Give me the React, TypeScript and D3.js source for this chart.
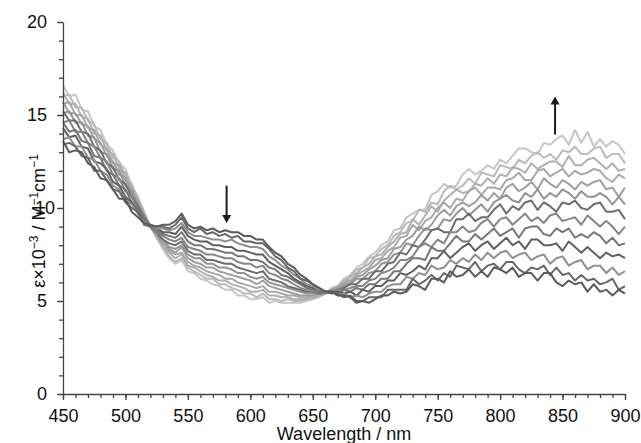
import React, { useEffect, useRef } from 'react';
import * as d3 from 'd3';

// wavelength grid of the spectra, nm
const wavelengths = d3.range(450, 901, 5);

// absorption spectra, ε×10^-3, first (dark) to last (light)
const s0 = [13.6, 13.0, 13.1, 13.0, 12.4, 12.2, 11.6, 11.5, 11.0, 10.5, 10.5, 9.8, 9.5,
  9.2, 9.1, 9.0, 9.1, 9.1, 9.3, 9.7, 9.1, 8.9, 9.0, 8.8, 8.9, 8.7, 8.8, 8.7, 8.7, 8.5, 8.5, 8.3, 8.3, 7.9, 7.6, 7.4, 7.0, 6.8, 6.4, 6.2, 5.9, 5.7, 5.5,
  5.5, 5.3, 5.3, 5.2, 4.9, 5.0, 4.9, 5.1, 5.3, 5.3, 5.5, 5.4, 5.5, 5.9, 5.8, 5.6, 6.2, 6.2, 6.0, 6.6, 6.3, 6.4, 6.7, 6.3, 6.6, 6.3, 6.8, 6.7, 6.5, 6.8, 6.3, 6.5, 6.5, 6.1, 6.5, 6.5, 6.0, 5.8, 6.1, 5.9, 6.0, 5.5, 5.9, 5.5, 5.6, 5.3, 5.6, 5.4];
const s1 = [13.4, 13.5, 13.3, 12.8, 12.7, 12.0, 12.0, 11.5, 11.0, 10.9, 10.3, 10.0, 9.8,
  9.1, 9.0, 9.0, 9.0, 8.9, 9.1, 9.5, 8.9, 8.7, 8.9, 8.6, 8.7, 8.5, 8.6, 8.4, 8.5, 8.2, 8.2, 8.1, 8.1, 7.8, 7.4, 7.2, 6.8, 6.6, 6.2, 6.1, 5.9, 5.7, 5.5,
  5.5, 5.4, 5.2, 5.3, 5.0, 5.0, 5.2, 5.2, 5.2, 5.6, 5.6, 5.6, 5.6, 6.2, 5.9, 6.1, 6.4, 6.1, 6.5, 6.3, 6.9, 6.8, 6.7, 7.1, 6.6, 6.9, 7.0, 6.7, 7.1, 7.1, 6.7, 6.5, 6.8, 6.7, 6.9, 6.4, 6.8, 6.4, 6.5, 6.1, 6.4, 6.1, 6.2, 5.9, 6.0, 6.2, 5.6, 5.8];
const s2 = [13.7, 13.8, 13.3, 13.3, 12.7, 12.6, 12.0, 11.8, 11.2, 11.0, 10.4, 10.2, 9.7,
  9.3, 9.0, 8.9, 8.9, 8.8, 8.9, 9.2, 8.7, 8.5, 8.5, 8.4, 8.3, 8.3, 8.2, 8.3, 8.1, 8.0, 7.9, 7.9, 7.8, 7.4, 7.2, 6.9, 6.7, 6.4, 6.2, 5.9, 5.8, 5.6, 5.5,
  5.5, 5.3, 5.4, 5.2, 5.3, 5.2, 5.4, 5.5, 5.5, 5.8, 5.9, 5.9, 6.3, 6.2, 6.5, 6.4, 6.9, 6.7, 6.8, 7.2, 7.0, 7.3, 7.1, 7.5, 7.2, 7.6, 7.3,
  7.6, 7.7, 7.3, 7.5, 7.6, 7.2, 7.4, 7.5, 7.0, 7.3, 7.4, 6.9, 7.1, 7.2, 6.7, 6.9, 6.9, 6.5, 6.8, 6.4, 6.6];
const s3 = [14.3, 13.8, 13.9, 13.3, 13.2, 12.5, 12.4, 12.1, 11.4, 11.2, 10.6, 10.3, 9.7,
  9.4, 9.0, 8.9, 8.7, 8.7, 8.6, 9.0, 8.5, 8.3, 8.2, 8.2, 8.0, 8.0, 7.9, 7.9, 7.7, 7.7, 7.6, 7.5, 7.5, 7.1, 6.9, 6.7, 6.5, 6.2, 6.0, 5.8, 5.7, 5.6, 5.5,
  5.4, 5.5, 5.4, 5.5, 5.3, 5.6, 5.5, 5.8, 5.8, 6.1, 6.1, 6.5, 6.4,
  6.6, 6.9, 6.7, 7.3, 7.3, 7.7, 7.3, 7.6, 7.9, 8.1, 7.7, 8.0, 8.2, 7.8, 8.1, 8.4, 8.0, 8.2, 7.8, 8.3, 8.3, 8.0, 8.0, 8.1, 7.7, 8.2, 7.9, 7.6, 7.9, 7.6, 7.3, 7.6, 7.4, 7.5, 7.3];
const s4 = [14.6, 14.1, 14.2, 13.6, 13.5, 12.8, 12.7, 12.0, 11.8, 11.2, 11.0, 10.3, 9.9,
  9.4, 9.0, 8.8, 8.6, 8.5, 8.4, 8.7, 8.2, 8.0, 8.0, 7.8, 7.8, 7.7, 7.6, 7.6, 7.4, 7.4, 7.2, 7.2, 7.1, 6.8, 6.7, 6.4, 6.3, 6.1, 5.9, 5.7, 5.6, 5.5, 5.5,
  5.5, 5.4, 5.6, 5.5, 5.7, 5.6, 5.9, 5.9, 6.2, 6.2, 6.6, 6.6, 7.0,
  7.3, 7.3, 7.2, 7.9, 7.7, 7.7, 8.1, 8.5, 8.2, 8.2, 8.6, 8.3, 8.6, 8.9, 8.5, 8.7, 8.9, 8.4, 8.9, 9.0, 9.0, 8.6, 8.5, 8.9, 8.7, 8.9, 8.4, 8.6, 8.4, 8.7, 8.5, 8.1, 8.4, 8.0, 8.1];
const s5 = [14.6, 14.7, 14.1, 14.1, 13.5, 13.3, 12.7, 12.5, 11.8, 11.6, 10.9, 10.6, 9.9,
  9.5, 9.0, 8.7, 8.5, 8.3, 8.2, 8.4, 7.9, 7.8, 7.7, 7.5, 7.5, 7.4, 7.3, 7.3, 7.1, 7.0, 7.0, 6.8, 6.9, 6.5, 6.4, 6.2, 6.1, 5.9, 5.7, 5.6, 5.5, 5.5, 5.5,
  5.5, 5.6, 5.6, 5.7, 5.8, 5.8, 6.1, 6.2, 6.5, 6.6, 6.8, 7.2, 7.2,
  7.4, 7.9, 8.1, 7.9, 8.3, 8.1, 8.7, 8.7, 9.0, 8.7, 8.8, 9.2, 9.4, 9.0, 9.4, 9.5, 9.1, 9.4, 9.7, 9.3, 9.5, 9.2, 9.6, 9.7, 9.3, 9.4, 9.5, 9.1, 9.6, 9.3, 9.0, 9.3, 9.0, 8.6, 9.0];
const s6 = [15.2, 14.7, 14.7, 14.1, 14.0, 13.3, 13.1, 12.4, 12.2, 11.5, 11.3, 10.6, 10.1,
  9.5, 9.0, 8.7, 8.3, 8.1, 8.0, 8.2, 7.7, 7.5, 7.5, 7.2, 7.2, 7.1, 7.0, 7.0, 6.8, 6.7, 6.6, 6.5, 6.6, 6.2, 6.1, 6.0, 5.8, 5.7, 5.6, 5.5, 5.5, 5.4, 5.5,
  5.5, 5.6, 5.7, 5.9, 5.9, 6.2, 6.2, 6.6, 6.6, 7.0, 7.1, 7.6, 7.5,
  8.0, 7.9, 8.3, 8.8, 8.9, 8.7, 8.7, 9.4, 9.4, 9.7, 9.3, 9.5, 9.5, 9.9, 10.2, 9.7, 10.1, 9.9, 10.3, 10.4, 9.9, 10.3, 10.1, 9.8, 10.3, 10.2, 10.4, 10.0, 9.9, 10.2, 10.3, 9.8, 9.8, 9.9, 9.4];
const s7 = [15.1, 15.2, 14.6, 14.6, 13.9, 13.8, 13.0, 12.9, 12.1, 12.0, 11.2, 10.9, 10.1,
  9.6, 9.0, 8.6, 8.3, 7.9, 7.8, 8.0, 7.5, 7.3, 7.3, 7.0, 7.0, 6.8, 6.8, 6.7, 6.5, 6.5, 6.3, 6.2, 6.3, 6.0, 5.9, 5.8, 5.7, 5.6, 5.5, 5.4, 5.4, 5.4, 5.4,
  5.6, 5.6, 5.8, 5.9, 6.2, 6.2, 6.5, 6.6, 7.0, 7.1, 7.5, 7.6, 8.1,
  8.0, 8.5, 8.9, 8.8, 8.9, 9.4, 9.3, 9.7, 10.0, 9.6, 9.9, 10.2, 9.8, 10.3, 10.5, 10.7, 10.4, 10.3, 10.8, 10.6, 11.0, 10.5, 10.8, 10.6, 11.0, 10.8, 10.5, 10.9, 10.6, 10.6, 10.8, 10.6, 10.2, 10.6, 10.2];
const s8 = [15.7, 15.1, 15.1, 14.5, 14.4, 13.7, 13.5, 12.8, 12.5, 11.8, 11.6, 10.8, 10.3,
  9.6, 9.0, 8.6, 8.1, 7.8, 7.6, 7.9, 7.3, 7.1, 7.0, 6.8, 6.8, 6.6, 6.5, 6.4, 6.3, 6.2, 6.1, 5.9, 6.1, 5.8, 5.7, 5.6, 5.5, 5.4, 5.3, 5.3, 5.3, 5.4, 5.4,
  5.5, 5.7, 5.9, 6.0, 6.3, 6.4, 6.7, 6.9, 7.2, 7.3, 7.8, 7.9, 8.3,
  8.5, 9.0, 8.8, 9.1, 9.6, 9.9, 9.6, 10.1, 10.3, 10.1, 10.3, 10.7, 10.4, 10.8, 10.5, 11.1, 11.3, 10.9, 11.1, 11.4, 11.0, 11.6, 11.3, 11.1, 11.5, 11.3, 11.0, 11.4, 11.2, 11.4, 11.5, 11.0, 11.1, 10.6, 11.1];
const s9 = [15.6, 15.7, 15.0, 15.0, 14.3, 14.2, 13.4, 13.2, 12.4, 12.3, 11.5, 11.1, 10.3,
  9.6, 9.0, 8.5, 8.1, 7.7, 7.5, 7.6, 7.1, 6.9, 6.8, 6.6, 6.5, 6.4, 6.2, 6.2, 6.0, 5.9, 5.8, 5.7, 5.8, 5.5, 5.5, 5.4, 5.3, 5.3, 5.2, 5.2, 5.3, 5.3, 5.4,
  5.6, 5.7, 6.0, 6.1, 6.4, 6.6, 6.8, 7.2, 7.3, 7.7, 7.9, 8.4, 8.5,
  9.1, 8.8, 9.3, 9.5, 10.0, 10.3, 10.0, 10.5, 10.4, 10.9, 11.1, 10.7, 11.1, 11.1, 11.0, 11.5, 11.6, 11.9, 11.5, 11.5, 12.0, 12.1, 11.7, 11.9, 12.1, 11.7, 12.0, 11.8, 11.9, 12.1, 12.0, 11.6, 11.4, 11.8, 11.6];
const s10 = [16.2, 15.6, 15.6, 14.9, 14.8, 14.0, 13.9, 13.1, 12.9, 12.1, 11.9, 11.0, 10.5,
  9.7, 9.0, 8.5, 7.9, 7.6, 7.3, 7.5, 6.9, 6.8, 6.6, 6.4, 6.3, 6.1, 6.1, 5.9, 5.8, 5.7, 5.5, 5.5, 5.6, 5.3, 5.3, 5.2, 5.2, 5.1, 5.1, 5.1, 5.2, 5.3, 5.4,
  5.6, 5.8, 6.0, 6.3, 6.5, 6.8, 7.0, 7.4, 7.5, 7.9, 8.2, 8.6, 8.7,
  9.4, 9.1, 9.6, 10.1, 9.8, 10.4, 10.7, 11.0, 10.8, 10.9, 11.3, 11.2, 11.6, 11.3, 11.8, 11.7, 12.2, 12.1, 11.9, 12.4, 12.1, 12.3, 12.5, 12.5, 12.2, 12.8, 12.3, 12.3, 12.6, 12.7, 12.4, 12.1, 12.4, 12.0, 12.1];
const s11 = [16.0, 16.1, 15.4, 15.4, 14.7, 14.5, 13.7, 13.5, 12.7, 12.5, 11.7, 11.3, 10.5,
  9.7, 9.0, 8.4, 7.9, 7.4, 7.1, 7.3, 6.8, 6.6, 6.4, 6.2, 6.2, 5.9, 5.9, 5.7, 5.6, 5.4, 5.4, 5.2, 5.4, 5.1, 5.1, 5.0, 5.1, 5.0, 5.0, 5.1, 5.1, 5.3, 5.4,
  5.6, 5.8, 6.1, 6.3, 6.7, 6.8, 7.3, 7.4, 7.8, 8.0, 8.5, 8.7, 9.2,
  9.3, 9.9, 9.8, 10.3, 10.2, 10.9, 11.2, 11.0, 11.2, 11.6, 11.3, 11.9, 11.8, 11.7, 12.3, 12.2, 12.1, 12.6, 12.4, 12.8, 13.0, 12.7, 12.9, 12.6, 13.1, 13.0, 13.3, 12.9, 12.9, 13.2, 13.3, 12.7, 12.9, 12.9, 12.4];
const s12 = [16.6, 16.0, 16.1, 15.3, 15.2, 14.4, 14.2, 13.4, 13.1, 12.4, 12.1, 11.2, 10.6,
  9.8, 9.0, 8.4, 7.8, 7.3, 7.0, 7.2, 6.6, 6.5, 6.2, 6.1, 5.9, 5.8, 5.6, 5.6, 5.3, 5.3, 5.1, 5.1, 5.2, 4.9, 5.0, 4.9, 4.9, 4.9, 4.9, 5.0, 5.1, 5.2, 5.4,
  5.7, 5.8, 6.2, 6.4, 6.8, 7.0, 7.4, 7.6, 8.0, 8.2, 8.8, 8.9, 9.5,
  9.7, 9.9, 9.9, 10.7, 10.9, 11.3, 11.1, 11.2, 11.8, 12.1, 11.8, 12.0, 12.3, 12.1, 12.6, 12.4, 12.8, 13.2, 13.2, 13.0, 12.9, 13.5, 13.4, 13.7, 13.9, 13.4, 14.2, 13.5, 14.1, 13.3, 13.7, 13.3, 13.6, 13.4, 12.9];

const spectra = [s0, s1, s2, s3, s4, s5, s6, s7, s8, s9, s10, s11, s12];
const lineColors = ['#5b5b5b', '#676767', '#8f8f8f', '#5f5f5f', '#767676', '#858585', '#6d6d6d',
  '#939393', '#9e9e9e', '#a8a8a8', '#b0b0b0', '#bababa', '#c6c6c6'];

const xMajor = [450, 500, 550, 600, 650, 700, 750, 800, 850, 900];
const xMinor = d3.range(450, 901, 10);
const yMajor = [0, 5, 10, 15, 20];
const yMinor = d3.range(0, 21, 1);

// arrows: [wavelength, from, to]
const arrows = [
  [581, 11.2, 9.2],
  [844, 13.95, 16.0],
];

const FONT = '"Liberation Sans", Arial, sans-serif';

export default function App() {
  const ref = useRef<SVGSVGElement>(null);

  useEffect(() => {
    const svg = d3.select(ref.current);
    svg.selectAll('*').remove();

    const x = d3.scaleLinear().domain([450, 900]).range([63, 625]);
    const y = d3.scaleLinear().domain([0, 20]).range([394, 22]);

    const line = d3.line<number>()
      .x((d, i) => x(wavelengths[i]))
      .y(d => y(d));

    const lines = svg.append('g');
    for (let i = spectra.length - 1; i >= 0; i--) {
      lines.append('path')
        .attr('d', line(spectra[i]))
        .attr('fill', 'none')
        .attr('stroke', lineColors[i])
        .attr('stroke-width', 2)
        .attr('stroke-linejoin', 'round');
    }

    // axes
    const styleAxis = (g: any) => {
      g.selectAll('path, line').attr('stroke', '#444').attr('stroke-width', 1.3);
      g.selectAll('text').attr('fill', '#111').style('font-family', FONT).style('font-size', '18px');
    };

    svg.append('g')
      .attr('transform', 'translate(63,0)')
      .call(d3.axisLeft(y).tickValues(yMinor).tickSize(4).tickSizeOuter(0).tickFormat(() => ''))
      .call(styleAxis);
    svg.append('g')
      .attr('transform', 'translate(63,0)')
      .call(d3.axisLeft(y).tickValues(yMajor).tickSize(6).tickSizeOuter(0).tickPadding(10))
      .call(styleAxis)
      .call((g: any) => g.select('.domain').remove())
      // the "10" label sits a little to the right in the original figure
      .call((g: any) => g.selectAll('.tick text').filter((d: number) => d === 10).attr('x', -8));

    svg.append('g')
      .attr('transform', 'translate(0,394)')
      .call(d3.axisBottom(x).tickValues(xMinor).tickSize(4).tickSizeOuter(0).tickFormat(() => ''))
      .call(styleAxis);
    svg.append('g')
      .attr('transform', 'translate(0,394)')
      .call(d3.axisBottom(x).tickValues(xMajor).tickSize(6).tickSizeOuter(0).tickPadding(9))
      .call(styleAxis)
      .call((g: any) => g.select('.domain').remove());

    // axis titles
    svg.append('text')
      .attr('x', 344).attr('y', 440)
      .attr('text-anchor', 'middle')
      .style('font-family', FONT).style('font-size', '18px').attr('fill', '#111')
      .text('Wavelength / nm');

    const yt = svg.append('text')
      .attr('transform', 'translate(45,221) rotate(-90)')
      .attr('text-anchor', 'middle')
      .style('font-family', FONT).style('font-size', '18px').attr('fill', '#111');
    yt.append('tspan').text('ε×10');
    yt.append('tspan').attr('dy', -7).style('font-size', '12px').text('−3');
    yt.append('tspan').attr('dy', 7).text(' / M');
    yt.append('tspan').attr('dy', -7).style('font-size', '12px').text('−1');
    yt.append('tspan').attr('dy', 7).text('cm');
    yt.append('tspan').attr('dy', -7).style('font-size', '12px').text('−1');

    // arrows
    arrows.forEach(([wl, from, to]) => {
      const ax = x(wl);
      const y0 = y(from);
      const y1 = y(to);
      const dir = y1 > y0 ? 1 : -1;
      svg.append('line')
        .attr('x1', ax).attr('x2', ax)
        .attr('y1', y0).attr('y2', y1 - dir * 6)
        .attr('stroke', '#1a1a1a').attr('stroke-width', 2);
      svg.append('path')
        .attr('d', `M${ax - 4.5},${y1 - dir * 8} L${ax},${y1} L${ax + 4.5},${y1 - dir * 8} Z`)
        .attr('fill', '#1a1a1a');
    });
  }, []);

  return (
    <div style={{ position: 'absolute', left: 0, top: 0 }}>
      <svg ref={ref} width={641} height={443} style={{ display: 'block', background: '#fff' }} />
    </div>
  );
}
